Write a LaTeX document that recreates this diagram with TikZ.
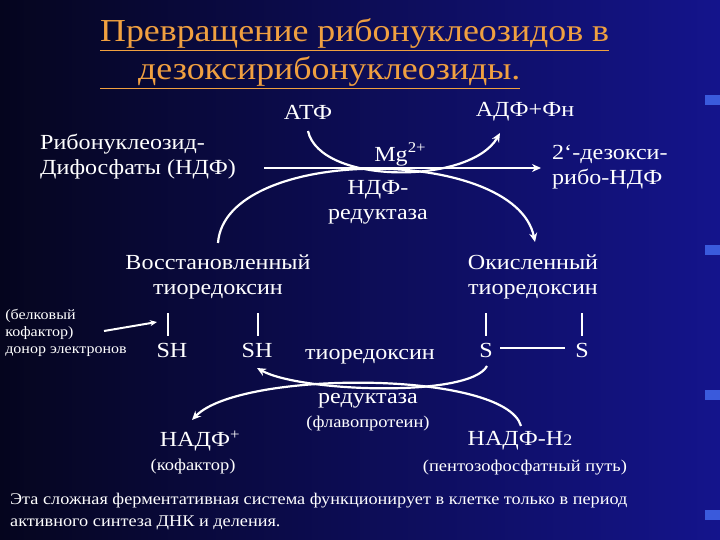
\documentclass[tikz,border=0pt]{standalone}
\usepackage{fontspec}
\setmainfont[FakeStretch=1.12]{Liberation Serif}
\usetikzlibrary{arrows.meta}
\definecolor{bgL}{HTML}{05051E}
\definecolor{bgR}{HTML}{14148C}
\definecolor{titlec}{HTML}{F0A040}
\definecolor{stripe}{HTML}{3A5ADC}
\begin{document}
\begin{tikzpicture}[x=1pt,y=-1pt,
  txt/.style={text=white,font=\fontsize{21.5}{25}\selectfont,inner sep=0pt,align=center},
  sm/.style={text=white,font=\fontsize{16.5}{19}\selectfont,inner sep=0pt,align=center},
  tiny/.style={text=white,font=\fontsize{14.3}{17}\selectfont,inner sep=0pt,align=left},
  arr/.style={white,line width=2.2pt,-{Stealth[length=9pt,width=8pt]}},
  bar/.style={white,line width=1.2pt}]
\shade[left color=bgL,right color=bgR] (0,0) rectangle (720,540);
\useasboundingbox (0,0) rectangle (720,540);
\foreach \y in {95,245,390,510}{\fill[stripe] (705,\y) rectangle (720,\y+10);}
% title
\node[anchor=base west,text=titlec,font=\fontsize{32}{36}\selectfont,inner sep=0pt] (t1) at (100,42) {\underline{Превращение рибонуклеозидов в}};
\node[anchor=base west,text=titlec,font=\fontsize{32}{36}\selectfont,inner sep=0pt] (t2) at (100,80) {\underline{\hspace{38pt}дезоксирибонуклеозиды.}};
% top
\node[txt] (atf) at (308,112) {АТФ};
\node[txt] (adf) at (525,112) {АДФ+Фн};
\node[txt,align=left,anchor=west] (rib) at (40,157) {Рибонуклеозид-\\Дифосфаты (НДФ)};
\node[txt,anchor=base] (mg) at (400,162) {Mg\raisebox{9pt}{\fontsize{15}{17}\selectfont 2+}};
\node[txt] (ndfr) at (378,202) {НДФ-\\редуктаза};
\node[txt,align=left,anchor=west] (dez) at (552,167) {2`-дезокси-\\рибо-НДФ};
\coordinate (h1) at (264,168);
\coordinate (h2) at (541,168);
\draw[arr] (h1) -- (h2);
\coordinate (a1) at (308,131);
\coordinate (a2) at (500,133);
\draw[arr] (a1) .. controls (320,185) and (470,185) .. (a2);
% thioredoxins
\node[txt] (red) at (218,277) {Восстановленный\\тиоредоксин};
\node[txt] (ox) at (533,277) {Окисленный\\тиоредоксин};
\coordinate (b1) at (218,243);
\coordinate (b2) at (535,242);
\draw[arr] (b1) .. controls (225,145) and (515,145) .. (b2);
\coordinate (v1a) at (168,313); \coordinate (v1b) at (168,336);
\coordinate (v2a) at (258,313); \coordinate (v2b) at (258,336);
\coordinate (v3a) at (486,313); \coordinate (v3b) at (486,336);
\coordinate (v4a) at (582,313); \coordinate (v4b) at (582,336);
\draw[bar] (v1a)--(v1b); \draw[bar] (v2a)--(v2b); \draw[bar] (v3a)--(v3b); \draw[bar] (v4a)--(v4b);
\node[txt] (sh1) at (172,350) {SH};
\node[txt] (sh2) at (257,350) {SH};
\node[txt] (s1) at (486,350) {S};
\node[txt] (s2) at (582,350) {S};
\coordinate (ss1) at (500,348);
\coordinate (ss2) at (565,348);
\draw[bar] (ss1) -- (ss2);
\node[tiny] (don) at (66,333) {(белковый\\кофактор)\\донор электронов};
\coordinate (d1) at (104,331);
\coordinate (d2) at (157,322);
\draw[white,line width=2pt,-{Stealth[length=7pt,width=6pt]}] (d1) -- (d2);
% lower enzyme
\node[txt] (thr) at (370,357) {тиоредоксин};
\node[txt] (rd) at (368,401) {редуктаза};
\node[sm] (flav) at (368,424) {(флавопротеин)};
\coordinate (c1) at (487,366);
\coordinate (c2) at (257,368);
\draw[arr] (c1) .. controls (470,398) and (300,392) .. (c2);
\coordinate (e1) at (521,426);
\coordinate (e2) at (192,420);
\draw[arr] (e1) .. controls (505,370) and (240,370) .. (e2);
\node[txt] (nadp) at (200,441) {НАДФ\textsuperscript{+}};
\node[sm] (kof) at (193,467) {(кофактор)};
\node[txt] (nadph) at (520,441) {НАДФ-Н\fontsize{16}{18}\selectfont 2};
\node[sm] (pent) at (525,468) {(пентозофосфатный путь)};
\node[sm,font=\fontsize{16.3}{22}\selectfont,align=left,anchor=north west] (foot) at (10,493) {Эта сложная ферментативная система функционирует в клетке только в период\\активного синтеза ДНК и деления.};
\end{tikzpicture}
\end{document}
